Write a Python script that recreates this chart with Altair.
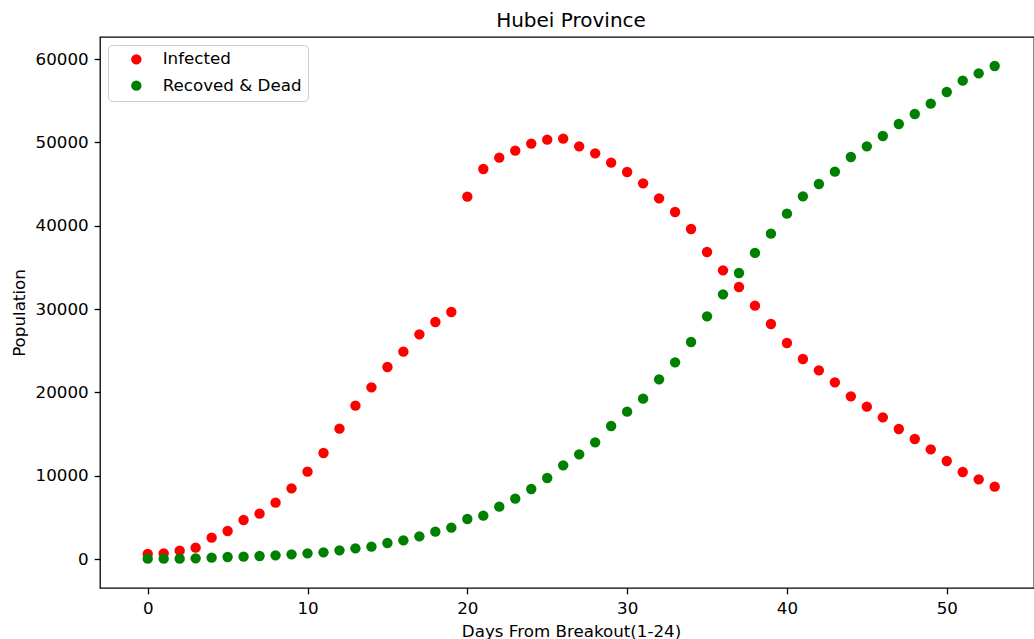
import altair as alt
import pandas as pd

days = list(range(54))
infected = [600, 680, 1000, 1360, 2560, 3360, 4680, 5440, 6760, 8480,
            10480, 12720, 15640, 18400, 20600, 23040, 24880, 26960, 28440, 29640,
            43480, 46800, 48160, 49000, 49840, 50320, 50440, 49520, 48680, 47560,
            46440, 45080, 43280, 41640, 39600, 36840, 34640, 32640, 30400, 28200,
            25920, 24000, 22640, 21200, 19520, 18280, 17000, 15600, 14400, 13160,
            11760, 10440, 9560, 8680]
recovered = [40, 40, 40, 80, 160, 240, 280, 360, 440, 560,
             680, 800, 1040, 1280, 1480, 1920, 2240, 2720, 3280, 3760,
             4800, 5200, 6280, 7240, 8400, 9720, 11240, 12560, 14000, 15960,
             17680, 19240, 21560, 23600, 26040, 29120, 31760, 34320, 36740, 39040,
             41440, 43520, 45000, 46480, 48240, 49520, 50760, 52200, 53400, 54640,
             56040, 57400, 58280, 59160]
series_names = ["Infected", "Recoved & Dead"]
series_colors = ["#ff0000", "#008000"]
x_ticks = [0, 10, 20, 30, 40, 50]
y_ticks = [0, 10000, 20000, 30000, 40000, 50000, 60000]

rows = []
for d, v in zip(days, infected):
    rows.append({"day": d, "value": v, "series": series_names[0], "k": 0})
for d, v in zip(days, recovered):
    rows.append({"day": d, "value": v, "series": series_names[1], "k": 1})
df = pd.DataFrame(rows)

FONT = "DejaVu Sans"
FS = 16.7

chart = alt.Chart(df).mark_point(filled=True, size=108, opacity=1).encode(
    x=alt.X("day:Q",
            scale=alt.Scale(domain=[-2.985, 55.46], nice=False, zero=False),
            axis=alt.Axis(values=x_ticks, title="Days From Breakout(1-24)",
                          grid=False, domain=False, tickColor="black", tickWidth=1.3,
                          tickSize=5.8, labelPadding=20, labelBaseline="alphabetic",
                          labelFont=FONT, labelFontSize=FS, labelColor="black",
                          titleFont=FONT, titleFontSize=FS, titleFontWeight="normal",
                          titleColor="black", titleX=471, titleY=48.3,
                          titleBaseline="alphabetic", titleAlign="center")),
    y=alt.Y("value:Q",
            scale=alt.Scale(domain=[-3480, 62640], nice=False, zero=False),
            axis=alt.Axis(values=y_ticks, format="d", title="Population",
                          grid=False, domain=False, tickColor="black", tickWidth=1.3,
                          tickSize=5.8, labelPadding=6,
                          labelFont=FONT, labelFontSize=FS, labelColor="black",
                          titleFont=FONT, titleFontSize=FS, titleFontWeight="normal",
                          titleColor="black", titleX=-76, titleY=275.5,
                          titleBaseline="alphabetic", titleAngle=270)),
    color=alt.Color("series:N",
                    scale=alt.Scale(domain=series_names, range=series_colors),
                    legend=alt.Legend(title=None, orient="none", legendX=8, legendY=8,
                                      padding=6, symbolOffset=14, labelOffset=18,
                                      rowPadding=8.3, symbolSize=108, symbolType="circle",
                                      symbolStrokeWidth=0, labelFont=FONT,
                                      labelFontSize=FS, labelColor="black",
                                      strokeColor="#cccccc", fillColor="white",
                                      cornerRadius=4)),
    order=alt.Order("k:Q"),
).properties(
    width=934, height=551,
    title=alt.TitleParams("Hubei Province", font=FONT, fontSize=20, fontWeight="normal",
                          color="black", anchor="middle", offset=6, dx=4),
    autosize=alt.AutoSizeParams(type="none"),
    padding={"left": 100, "top": 37, "right": 0, "bottom": 51},
).configure(background="white").configure_view(stroke="black", strokeWidth=1.3)

chart.save("out.html", embed_options={"renderer": "svg", "actions": False})
